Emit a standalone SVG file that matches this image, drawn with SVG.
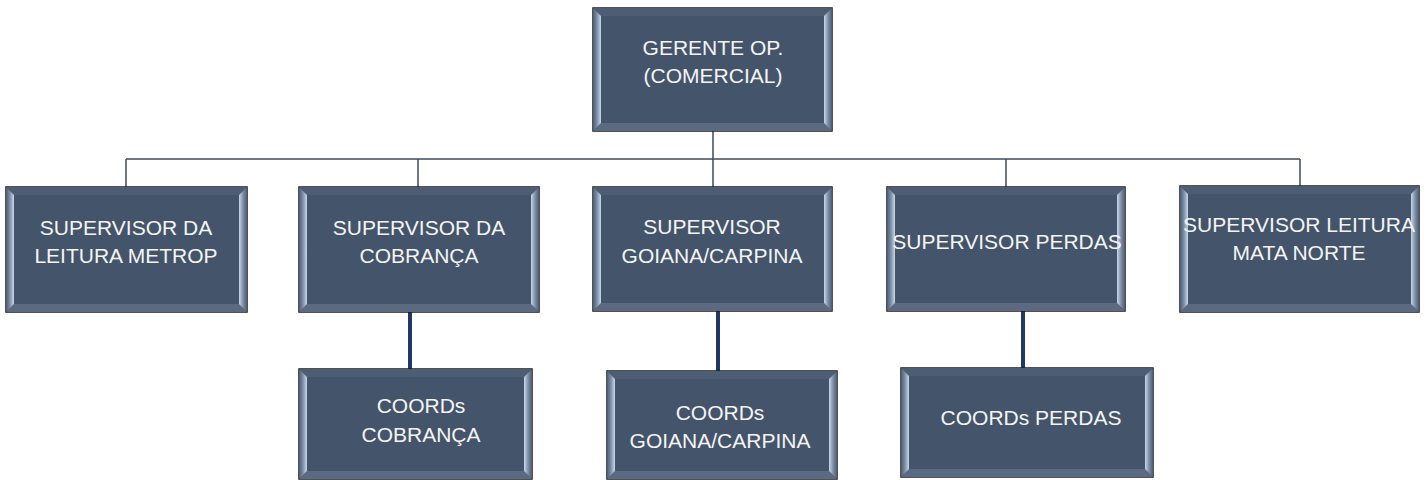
<svg xmlns="http://www.w3.org/2000/svg" width="1428" height="480" viewBox="0 0 1428 480">
<defs>
<linearGradient id="gl" x1="0" y1="0" x2="1" y2="0"><stop offset="0" stop-color="#4c5c73"/><stop offset="0.5" stop-color="#7e90a9"/><stop offset="1" stop-color="#c9d7ea"/></linearGradient>
<linearGradient id="gr" x1="1" y1="0" x2="0" y2="0"><stop offset="0" stop-color="#4c5c73"/><stop offset="0.5" stop-color="#7e90a9"/><stop offset="1" stop-color="#c9d7ea"/></linearGradient>
<style>
.box{fill:#44546a;stroke:#1a1a1a;stroke-width:1.5}
.bt{fill:#4d5d73}
.bb{fill:#5b6a80}
.bl{fill:url(#gl)}
.br{fill:url(#gr)}
.t{font-family:"Liberation Sans",Arial,sans-serif;font-size:21px;fill:#f4f4f4;text-anchor:middle}
.thin{stroke:#3e4c60;stroke-width:1.5;fill:none}
.thick{stroke:#1f3864;stroke-width:4;fill:none}
</style>
</defs>
<g id="connectors">
<path class="thin" d="M713 131V159M126 159H1300M126 159V187M418 159V187M713 159V187M1006 159V187M1300 159V186"/>
<path class="thick" d="M410 312V369M718 311V371M1023 311V368"/>
</g>
<g id="gerente">
<rect class="box" x="593" y="8" width="239" height="123"/>
<polygon class="bt" points="593,8 832,8 824,16 601,16"/>
<polygon class="bb" points="593,131 832,131 824,123 601,123"/>
<polygon class="bl" points="593,8 601,16 601,123 593,131"/>
<polygon class="br" points="832,8 824,16 824,123 832,131"/>
<text class="t" x="713" y="55">GERENTE OP.</text>
<text class="t" x="713" y="83">(COMERCIAL)</text>
</g>
<g id="sup-leitura-metrop">
<rect class="box" x="6" y="187" width="241" height="125"/>
<polygon class="bt" points="6,187 247,187 239,195 14,195"/>
<polygon class="bb" points="6,312 247,312 239,304 14,304"/>
<polygon class="bl" points="6,187 14,195 14,304 6,312"/>
<polygon class="br" points="247,187 239,195 239,304 247,312"/>
<text class="t" x="126" y="235">SUPERVISOR DA</text>
<text class="t" x="126" y="263">LEITURA METROP</text>
</g>
<g id="sup-cobranca">
<rect class="box" x="299" y="187" width="240" height="125"/>
<polygon class="bt" points="299,187 539,187 531,195 307,195"/>
<polygon class="bb" points="299,312 539,312 531,304 307,304"/>
<polygon class="bl" points="299,187 307,195 307,304 299,312"/>
<polygon class="br" points="539,187 531,195 531,304 539,312"/>
<text class="t" x="419" y="235">SUPERVISOR DA</text>
<text class="t" x="419" y="263">COBRANÇA</text>
</g>
<g id="sup-goiana">
<rect class="box" x="593" y="187" width="239" height="124"/>
<polygon class="bt" points="593,187 832,187 824,195 601,195"/>
<polygon class="bb" points="593,311 832,311 824,303 601,303"/>
<polygon class="bl" points="593,187 601,195 601,303 593,311"/>
<polygon class="br" points="832,187 824,195 824,303 832,311"/>
<text class="t" x="712" y="234">SUPERVISOR</text>
<text class="t" x="712" y="263">GOIANA/CARPINA</text>
</g>
<g id="sup-perdas">
<rect class="box" x="887" y="187" width="238" height="124"/>
<polygon class="bt" points="887,187 1125,187 1117,195 895,195"/>
<polygon class="bb" points="887,311 1125,311 1117,303 895,303"/>
<polygon class="bl" points="887,187 895,195 895,303 887,311"/>
<polygon class="br" points="1125,187 1117,195 1117,303 1125,311"/>
<text class="t" x="1007" y="249">SUPERVISOR PERDAS</text>
</g>
<g id="sup-mata-norte">
<rect class="box" x="1180" y="186" width="239" height="126"/>
<polygon class="bt" points="1180,186 1419,186 1411,194 1188,194"/>
<polygon class="bb" points="1180,312 1419,312 1411,304 1188,304"/>
<polygon class="bl" points="1180,186 1188,194 1188,304 1180,312"/>
<polygon class="br" points="1419,186 1411,194 1411,304 1419,312"/>
<text class="t" x="1299" y="232">SUPERVISOR LEITURA</text>
<text class="t" x="1299" y="260">MATA NORTE</text>
</g>
<g id="coords-cobranca">
<rect class="box" x="299" y="369" width="233" height="110"/>
<polygon class="bt" points="299,369 532,369 524,377 307,377"/>
<polygon class="bb" points="299,479 532,479 524,471 307,471"/>
<polygon class="bl" points="299,369 307,377 307,471 299,479"/>
<polygon class="br" points="532,369 524,377 524,471 532,479"/>
<text class="t" x="421" y="413">COORDs</text>
<text class="t" x="421" y="442">COBRANÇA</text>
</g>
<g id="coords-goiana">
<rect class="box" x="607" y="371" width="230" height="108"/>
<polygon class="bt" points="607,371 837,371 829,379 615,379"/>
<polygon class="bb" points="607,479 837,479 829,471 615,471"/>
<polygon class="bl" points="607,371 615,379 615,471 607,479"/>
<polygon class="br" points="837,371 829,379 829,471 837,479"/>
<text class="t" x="720" y="420">COORDs</text>
<text class="t" x="720" y="448">GOIANA/CARPINA</text>
</g>
<g id="coords-perdas">
<rect class="box" x="901" y="368" width="252" height="109"/>
<polygon class="bt" points="901,368 1153,368 1145,376 909,376"/>
<polygon class="bb" points="901,477 1153,477 1145,469 909,469"/>
<polygon class="bl" points="901,368 909,376 909,469 901,477"/>
<polygon class="br" points="1153,368 1145,376 1145,469 1153,477"/>
<text class="t" x="1031" y="425">COORDs PERDAS</text>
</g>
</svg>
